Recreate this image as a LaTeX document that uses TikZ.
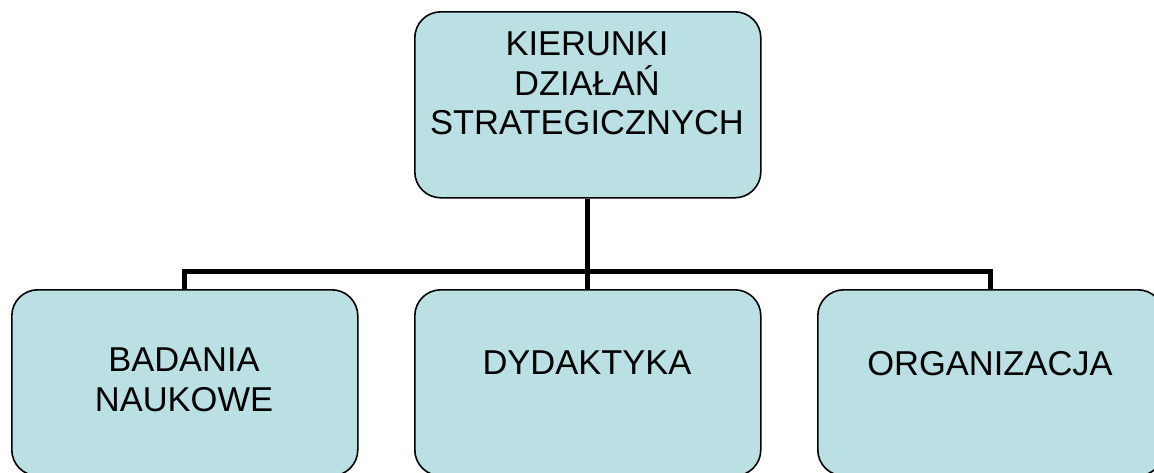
\documentclass[tikz,border=0pt]{standalone}
\usepackage{fontspec}
\setmainfont{Liberation Sans}
\definecolor{boxfill}{RGB}{187,224,227}
\begin{document}
\begin{tikzpicture}[x=1pt,y=-1pt,
  box/.style={draw=black, line width=1.6pt, fill=boxfill, rounded corners=26pt,
    minimum width=346pt, minimum height=186pt, inner sep=0pt, anchor=north west},
  lbl/.style={font=\fontsize{34.5}{39.2}\selectfont, align=center, inner sep=0pt, anchor=north},
  conn/.style={line width=5pt}]
\useasboundingbox (0,0) rectangle (1154,472);
\clip (0,0) rectangle (1154,472);
\node[box] (top) at (414,11) {};
\node[box] (left) at (11,289) {};
\node[box] (mid) at (414,289) {};
\node[box] (right) at (817,289) {};
\coordinate (bus) at (587,271);
\draw[conn] (top.south) -- (mid.north);
\draw[conn] (left.north) |- (bus);
\draw[conn] (right.north) |- (bus);
\node[lbl] (toptxt) at (587,32) {KIERUNKI\\DZIAŁAŃ\\STRATEGICZNYCH};
\node[lbl] (lefttxt) at (184,348) {BADANIA\\NAUKOWE};
\node[lbl] (midtxt) at (587,351) {DYDAKTYKA};
\node[lbl] (righttxt) at (990,351) {ORGANIZACJA};
\end{tikzpicture}
\end{document}
